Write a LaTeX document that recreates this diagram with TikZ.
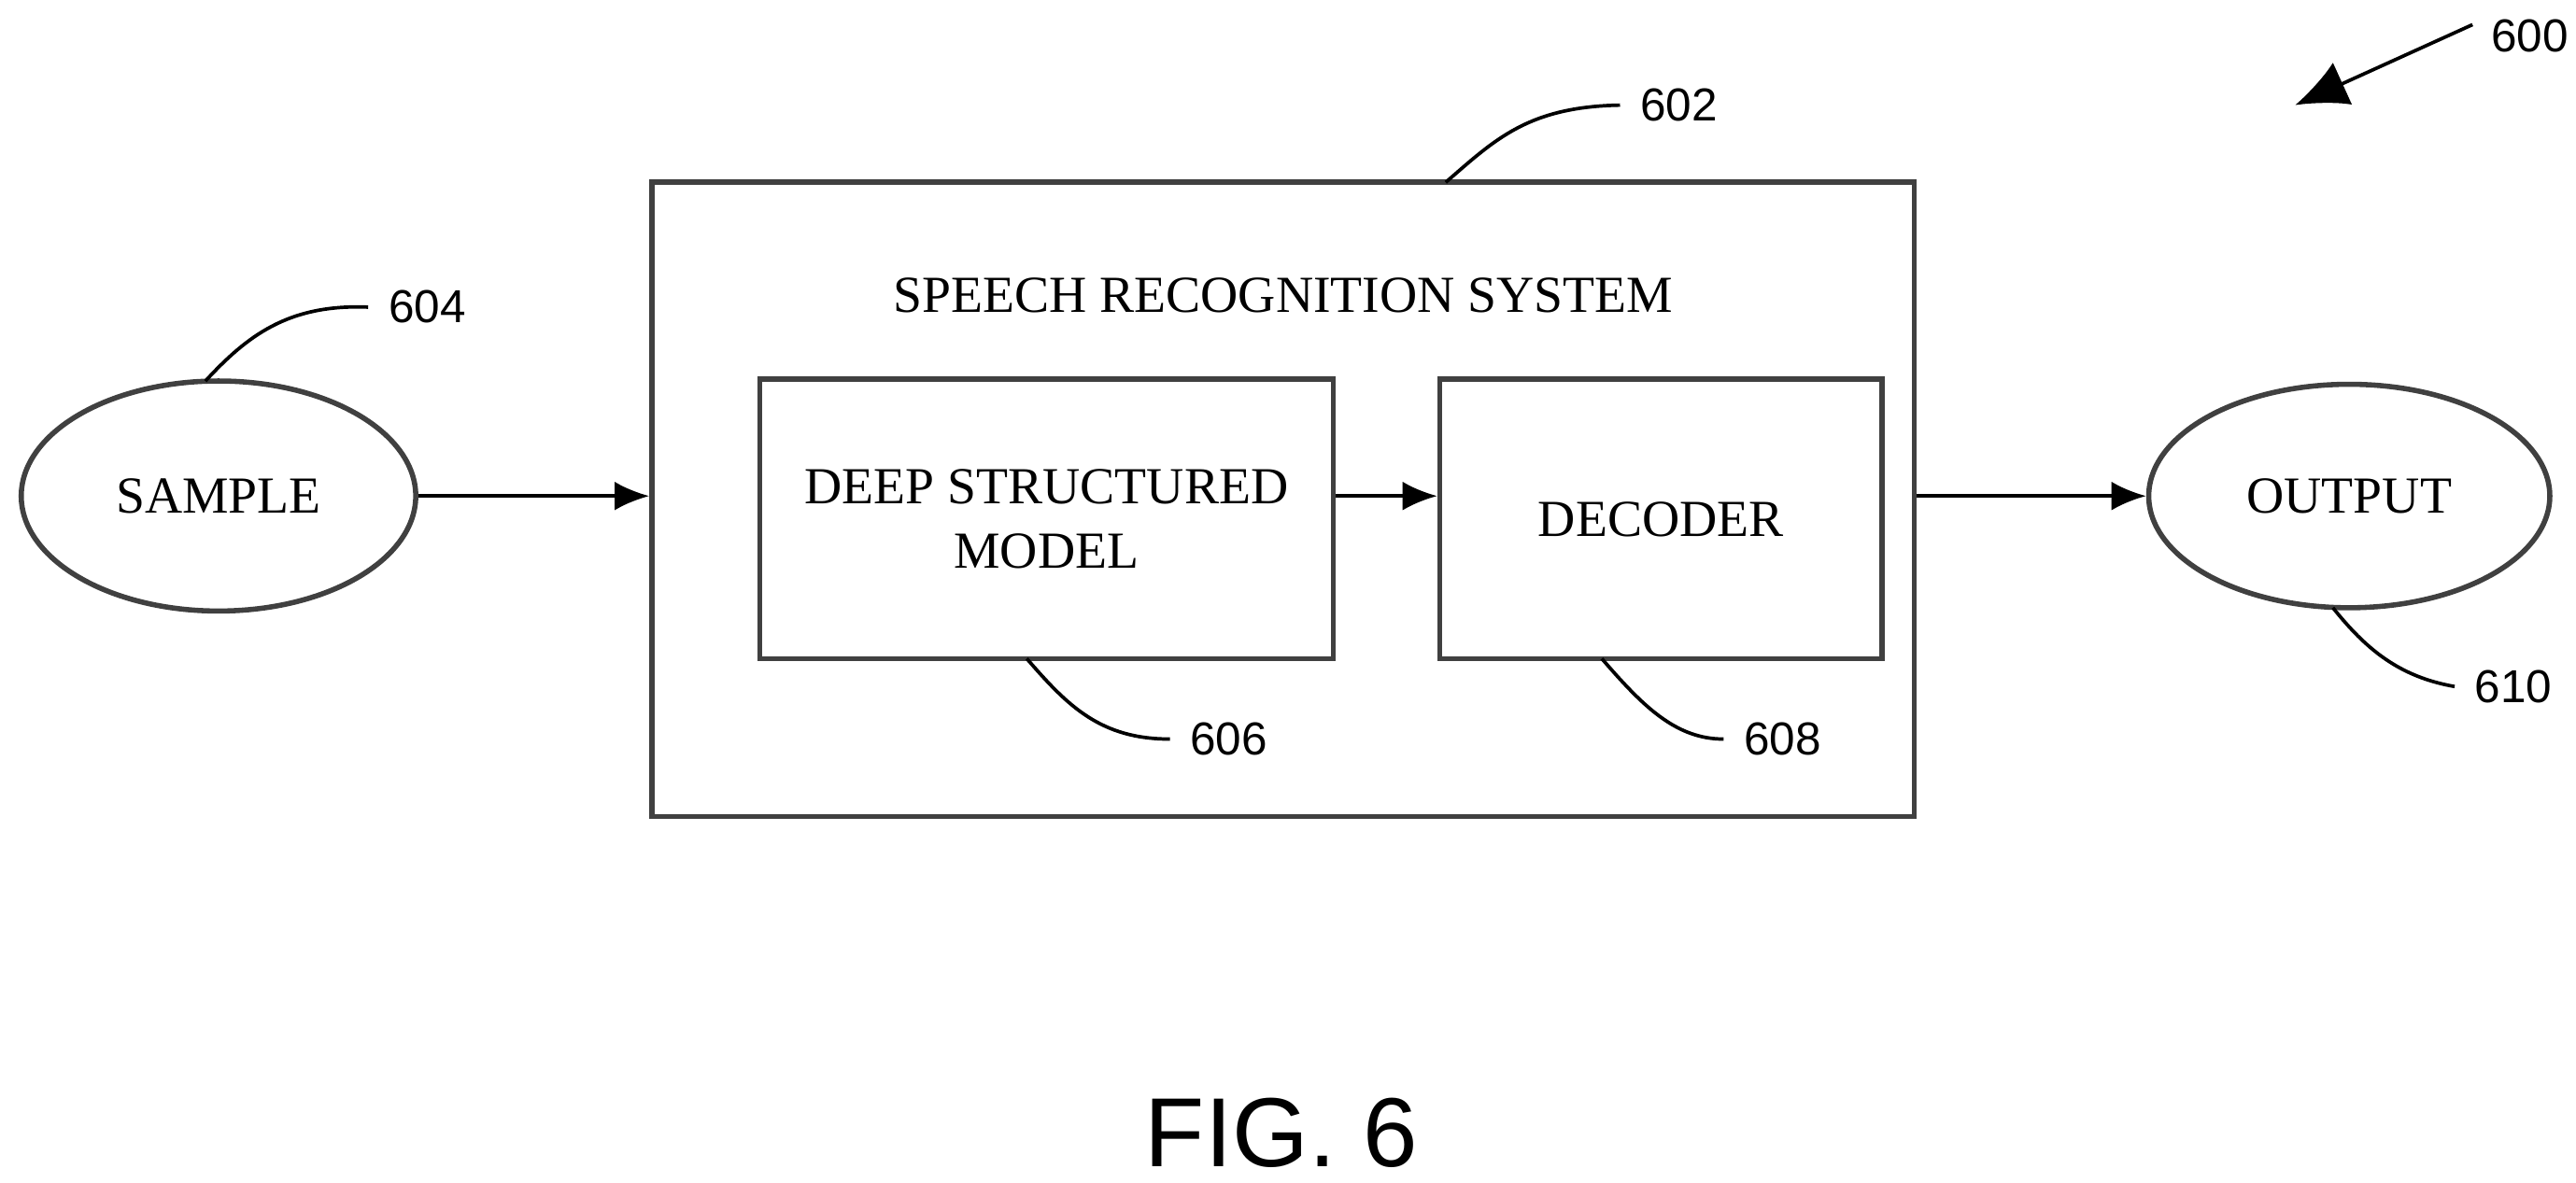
\documentclass[tikz,border=0pt]{standalone}
\usepackage{fontspec}
\setmainfont{Liberation Serif}
\newfontfamily\numfont{Liberation Sans}
\usetikzlibrary{shapes.geometric,arrows.meta,positioning}
\begin{document}
\begin{tikzpicture}[x=0.01cm,y=-0.01cm,
  box/.style={draw,line width=0.9pt,draw=black!75},
  lbl/.style={font=\fontsize{9}{11}\selectfont,align=center},
  num/.style={font=\numfont\fontsize{8}{10}\selectfont},
  lead/.style={line width=0.6pt},
  flow/.style={-{Latex[length=6pt,width=5pt]},line width=0.6pt}]
  \useasboundingbox (0,0) rectangle (1568,720);
  % system box and its blocks
  \node[box,minimum width=7.68cm,minimum height=3.86cm] (sys) at (781,304) {};
  \node[lbl] (title) at (781,180) {SPEECH RECOGNITION SYSTEM};
  \node[box,minimum width=3.49cm,minimum height=1.70cm,lbl] (dsm) at (637,316) {DEEP STRUCTURED\\MODEL};
  \node[box,minimum width=2.69cm,minimum height=1.70cm,lbl] (dec) at (1011,316) {DECODER};
  \node[box,ellipse,minimum width=2.40cm,minimum height=1.40cm,lbl] (smp) at (133,302) {SAMPLE};
  \node[box,ellipse,minimum width=2.44cm,minimum height=1.36cm,lbl] (out) at (1430,302) {OUTPUT};
  % flow
  \draw[flow] (smp.east) -- (smp.east -| sys.west);
  \draw[flow] (dsm.east |- smp.east) -- (dec.west |- smp.east);
  \draw[flow] (sys.east |- smp.east) -- (out.west);
  % reference numerals
  \node[num] (n600) at (1540,22) {600};
  \node[num] (n602) at (1022,64) {602};
  \node[num] (n604) at (260,187) {604};
  \node[num] (n606) at (748,450) {606};
  \node[num] (n608) at (1085,450) {608};
  \node[num] (n610) at (1530,418) {610};
  \coordinate (a600) at (1505,15);
  \draw[lead,-{Latex[length=9pt,width=8pt]}] (a600) -- (1397,64);
  \draw[lead] (880,111) .. controls (910,85) and (930,65) .. (n602.west);
  \draw[lead] (125,232) .. controls (150,205) and (175,185) .. (n604.west);
  \draw[lead] (625,401) .. controls (650,430) and (670,450) .. (n606.west);
  \draw[lead] (975,401) .. controls (1000,430) and (1020,450) .. (n608.west);
  \draw[lead] (1420,370) .. controls (1440,395) and (1460,412) .. (n610.west);
  \node[font=\numfont\fontsize{17}{20}\selectfont] (fig) at (780,690) {FIG. 6};
\end{tikzpicture}
\end{document}
